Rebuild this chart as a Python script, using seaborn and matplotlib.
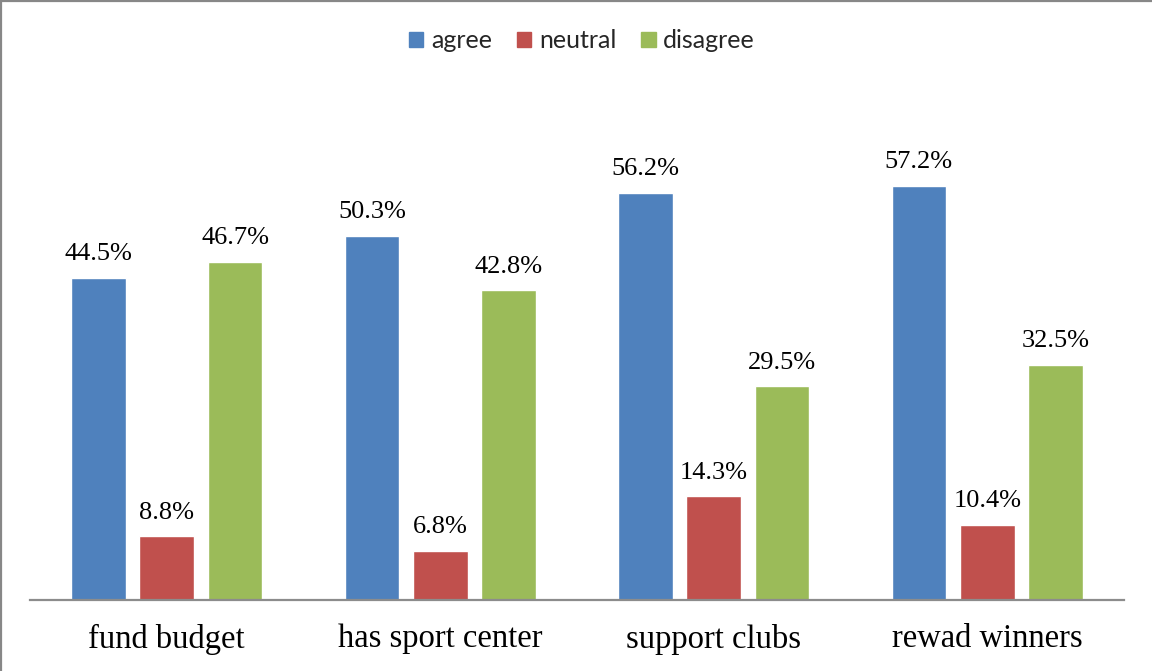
import matplotlib
matplotlib.use("Agg")
import matplotlib.pyplot as plt
from matplotlib.lines import Line2D
import pandas as pd
import seaborn as sns

# Survey items and the share of answers in each response group (%)
items = ["fund budget", "has sport center", "support clubs", "rewad winners"]
responses = ["agree", "neutral", "disagree"]
agree = [44.5, 50.3, 56.2, 57.2]
neutral = [8.8, 6.8, 14.3, 10.4]
disagree = [46.7, 42.8, 29.5, 32.5]
colors = ["#4F81BD", "#C0504D", "#9BBB59"]

df = pd.DataFrame({
    "item": items * 3,
    "response": [r for r in responses for _ in items],
    "pct": agree + neutral + disagree,
})

sns.set_theme(style="white")
plt.rcParams["font.family"] = ["Liberation Serif", "DejaVu Serif"]

fig = plt.figure(figsize=(11.52, 6.71), dpi=100)
ax = fig.add_axes([30 / 1152, 71 / 671, 1094 / 1152, 507 / 671])

sns.barplot(data=df, x="item", y="pct", hue="response", order=items,
            hue_order=responses, palette=colors, width=0.75, gap=0.2,
            saturation=1, errorbar=None, ax=ax, legend=False)

for cont in ax.containers:
    ax.bar_label(cont, fmt="%.1f%%", padding=9, fontsize=19,
                 family="Liberation Serif", color="black")

ax.set_ylim(0, 70)
ax.set_xlim(-0.5, 3.5)
ax.set_xlabel("")
ax.set_ylabel("")
ax.set_yticks([])
ax.tick_params(axis="x", length=0, pad=17, labelsize=23.5, labelcolor="black")
for lab in ax.get_xticklabels():
    lab.set_family("Liberation Serif")
for side in ["left", "right", "top"]:
    ax.spines[side].set_visible(False)
ax.spines["bottom"].set_color("#8C8C8C")
ax.spines["bottom"].set_linewidth(1.6)

handles = [plt.Rectangle((0, 0), 1, 1, color=c) for c in colors]
fig.legend(handles, responses, loc="center",
           bbox_to_anchor=(0.5 + 6 / 1152, 1 - 41 / 671),
           ncol=3, frameon=False, handlelength=0.58, handleheight=0.58,
           handletextpad=0.3, columnspacing=1.0,
           prop={"family": "Lato", "size": 18})

# outer frame along the top and left edges
fig.add_artist(Line2D([0.0008, 0.0008], [0, 1], transform=fig.transFigure,
                      color="#878787", linewidth=1.6))
fig.add_artist(Line2D([0, 1], [0.9992, 0.9992], transform=fig.transFigure,
                      color="#878787", linewidth=1.6))

fig.savefig("out.png", dpi=100)
